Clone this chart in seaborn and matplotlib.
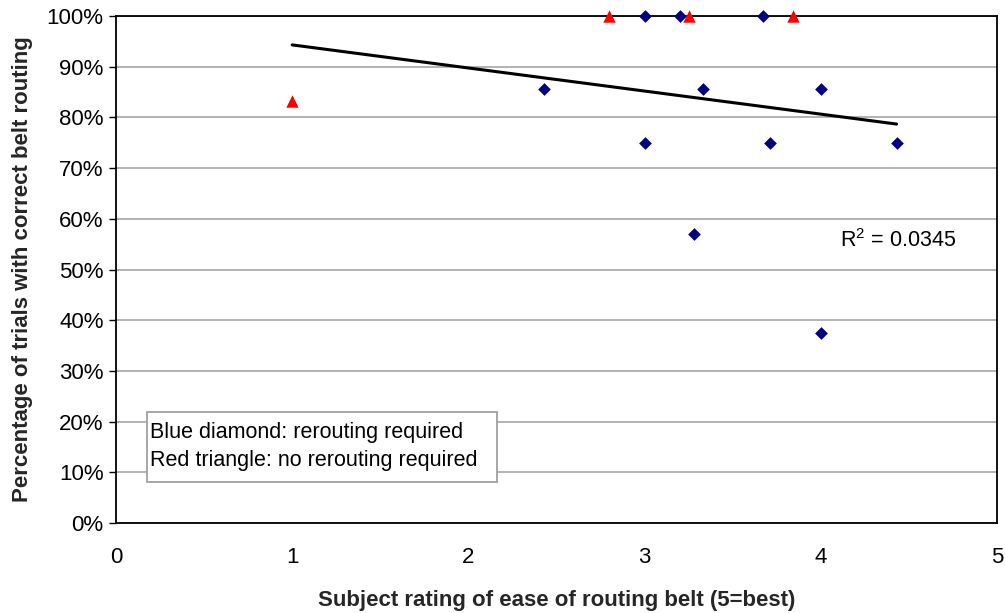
import numpy as np
import pandas as pd
import matplotlib
matplotlib.use("Agg")
import matplotlib.pyplot as plt
import matplotlib.patches as mpatches
import seaborn as sns

# Data
blue_x = [2.43, 3.00, 3.20, 3.67, 3.00, 3.33, 3.71, 4.00, 4.43, 3.28, 4.00]
blue_y = [0.857, 1.00, 1.00, 1.00, 0.75, 0.857, 0.75, 0.857, 0.75, 0.571, 0.375]
red_x = [1.00, 2.80, 3.25, 3.84]
red_y = [0.833, 1.00, 1.00, 1.00]
r2_label = "R$^2$ = 0.0345"
x_label = "Subject rating of ease of routing belt (5=best)"
y_label = "Percentage of trials with correct belt routing"
legend_text = "Blue diamond: rerouting required\nRed triangle: no rerouting required"

sns.set_theme(style="white")
plt.rcParams['font.family'] = ['Liberation Sans', 'DejaVu Sans']
plt.rcParams['mathtext.fontset'] = 'custom'
plt.rcParams['mathtext.rm'] = 'Liberation Sans'

blue = pd.DataFrame({"x": blue_x, "y": blue_y})
red = pd.DataFrame({"x": red_x, "y": red_y})
allpts = pd.concat([blue, red], ignore_index=True)

fig = plt.figure(figsize=(10.05, 6.13), dpi=100)
ax = fig.add_axes([116/1005, 1 - 523/613, (997-116)/1005, (523-16)/613])

ax.set_xlim(0, 5)
ax.set_ylim(0, 1.0)
ax.set_yticks(np.arange(0, 1.01, 0.1))
ax.set_yticklabels([f"{int(round(v*100))}%" for v in np.arange(0, 1.01, 0.1)])
ax.set_xticks(range(0, 6))
ax.grid(axis='y', color='#a6a6a6', linewidth=1.2)
ax.set_axisbelow(True)

# trend line over all points
slope, intercept = np.polyfit(allpts["x"], allpts["y"], 1)
xs = np.array([allpts["x"].min(), allpts["x"].max()])
ax.plot(xs, slope * xs + intercept, color='black', linewidth=2.2, zorder=2)

sns.scatterplot(data=blue, x="x", y="y", ax=ax, marker='D', color='#000080',
                s=42, edgecolor='#000080', linewidth=0, zorder=3, clip_on=False)
sns.scatterplot(data=red, x="x", y="y", ax=ax, marker='^', color='#ff0000',
                s=80, edgecolor='#ff0000', linewidth=0, zorder=3, clip_on=False)

for sp in ax.spines.values():
    sp.set_visible(True)
    sp.set_color('black')
    sp.set_linewidth(1.3)

ax.tick_params(axis='y', which='both', left=True, length=5, width=1, color='black',
               labelsize=16, pad=4, labelcolor='black')
ax.tick_params(axis='x', which='both', bottom=False, labelsize=16, pad=11, labelcolor='black')

ax.set_xlabel(x_label, fontsize=16, fontweight='bold', labelpad=16)
ax.set_ylabel(y_label, fontsize=16, fontweight='bold', labelpad=10)

ax.text(4.11, 0.558, r2_label, fontsize=15.5, color='black', ha='left', va='center')

box = mpatches.Rectangle((0.176, 0.081), 2.162 - 0.176, 0.219 - 0.081,
                         facecolor='white', edgecolor='#a0a0a0', linewidth=1.3, zorder=4)
ax.add_patch(box)
ax.text(0.193, 0.151, legend_text, fontsize=15.5, color='black', ha='left', va='center',
        linespacing=1.45, zorder=5)

fig.savefig("out.png", dpi=100)
